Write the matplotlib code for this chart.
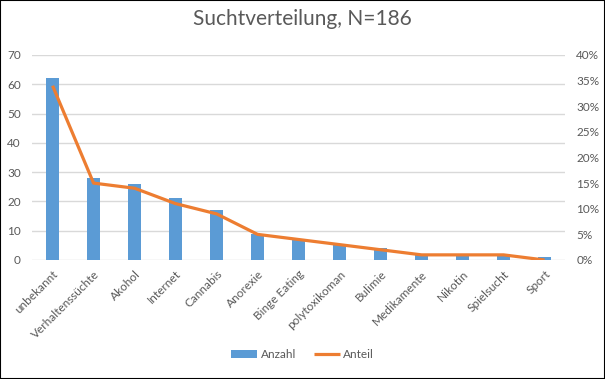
import matplotlib.pyplot as plt
from matplotlib.patches import Rectangle
from matplotlib.ticker import PercentFormatter

plt.rcParams['font.family'] = ['Lato', 'DejaVu Sans']

kategorien = ['unbekannt', 'Verhaltenssüchte', 'Akohol', 'Internet', 'Cannabis',
              'Anorexie', 'Binge Eating', 'polytoxikoman', 'Bulimie', 'Medikamente',
              'Nikotin', 'Spielsucht', 'Sport']
anzahl = [62, 28, 26, 21, 17, 9, 7, 5, 4, 2, 2, 2, 1]
anteil = [34, 15, 14, 11, 9, 5, 4, 3, 2, 1, 1, 1, 0]  # in %

grau = '#595959'
blau = '#5B9BD5'
orange = '#ED7D31'

fig = plt.figure(figsize=(6.05, 3.79), dpi=100)
ax = fig.add_axes([0.053, 0.314, 0.881, 0.541])
ax2 = ax.twinx()

x = range(len(kategorien))
ax.bar(x, anzahl, width=0.33, color=blau, label='Anzahl', zorder=2)
ax2.plot(x, anteil, color=orange, lw=2.3, label='Anteil', solid_capstyle='butt')

ax.set_xlim(-0.5, len(kategorien) - 0.5)
ax.set_ylim(0, 70)
ax.set_yticks(range(0, 71, 10))
ax2.set_ylim(0, 40)
ax2.set_yticks(range(0, 41, 5))
ax2.yaxis.set_major_formatter(PercentFormatter(decimals=0))

ax.grid(axis='y', color='#D9D9D9', lw=1, zorder=0)
ax.set_axisbelow(True)
for a in (ax, ax2):
    for s in a.spines.values():
        s.set_visible(False)
    a.tick_params(length=0, labelsize=8.5, colors=grau)
ax.tick_params(axis='y', pad=8)
ax2.tick_params(axis='y', pad=8)

ax.set_xticks(list(x))
ax.set_xticklabels(kategorien, rotation=45, ha='right', rotation_mode='anchor')
ax.tick_params(axis='x', pad=6)

fig.suptitle('Suchtverteilung, N=186', y=0.975, fontsize=15, color=grau)

h1, l1 = ax.get_legend_handles_labels()
h2, l2 = ax2.get_legend_handles_labels()
fig.legend(h1 + h2, l1 + l2, loc='center', bbox_to_anchor=(0.5, 0.065), ncol=2,
           frameon=False, fontsize=8.5, labelcolor=grau, handlelength=2.2,
           handletextpad=0.3, columnspacing=1.5)

fig.patches.append(Rectangle((0, 0), 1, 1, transform=fig.transFigure,
                             fill=False, edgecolor='black', lw=1.5))

plt.savefig('out.png', dpi=100)
